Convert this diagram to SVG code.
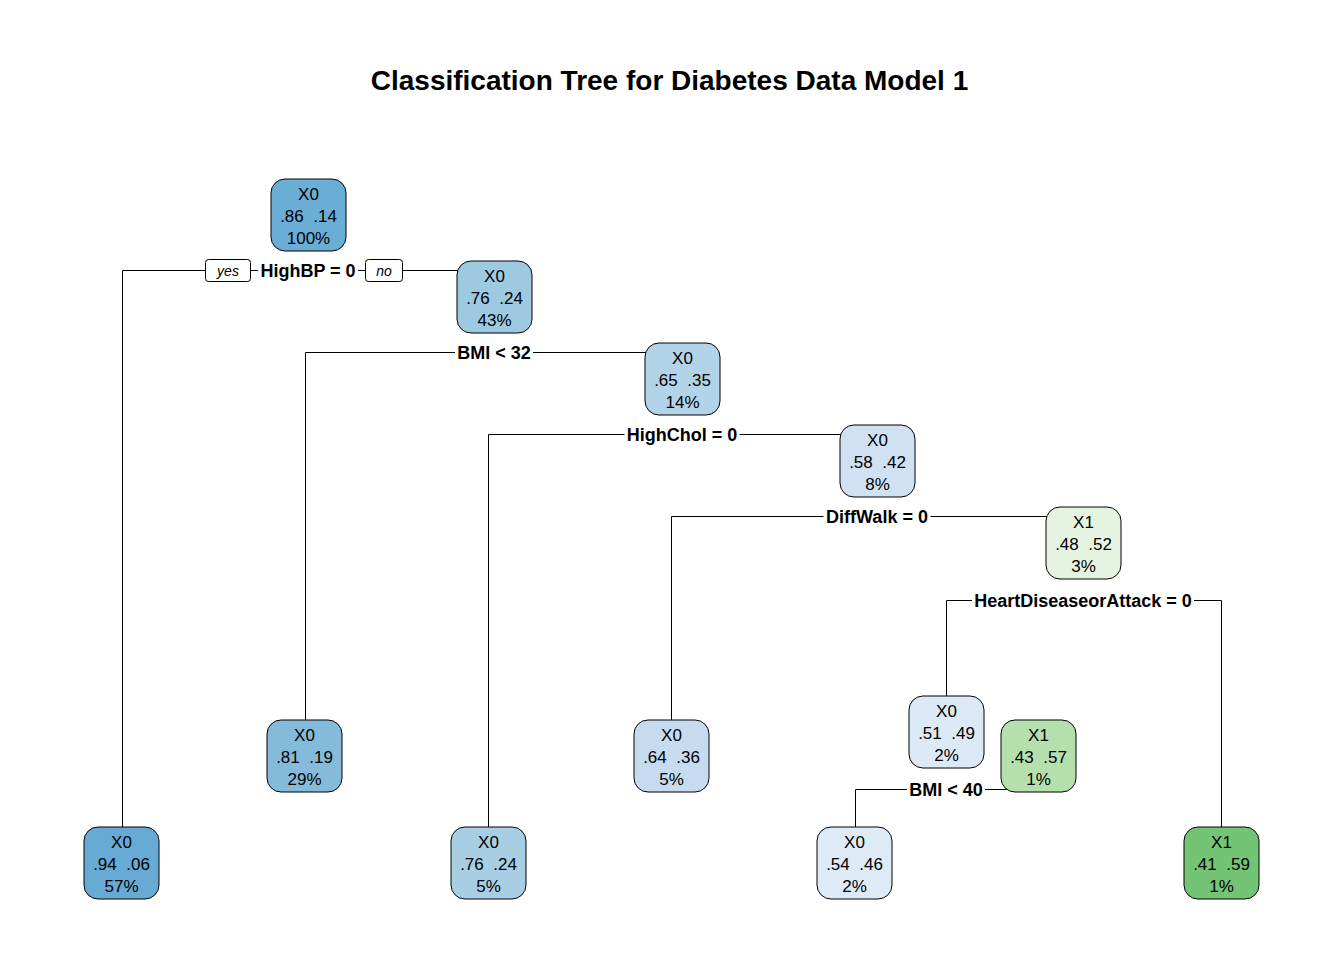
<svg xmlns="http://www.w3.org/2000/svg" width="1344" height="960" viewBox="0 0 1344 960">
<style>
.title{font-family:"Liberation Sans",Arial,sans-serif;font-weight:bold;font-size:28px;text-anchor:middle;fill:#000}
.box{stroke:#000;stroke-width:1}
.nt{font-family:"Liberation Sans",Arial,sans-serif;font-size:17px;text-anchor:middle;fill:#000}
.lbl{font-family:"Liberation Sans",Arial,sans-serif;font-weight:bold;font-size:18px;text-anchor:middle;fill:#000}
.bg{fill:#fff;stroke:none}
.yn{font-family:"Liberation Sans",Arial,sans-serif;font-style:italic;font-size:14px;text-anchor:middle;fill:#000}
.ynbox{fill:#fff;stroke:#000;stroke-width:1}
.conn{fill:none;stroke:#000;stroke-width:1}
</style>
<rect width="1344" height="960" fill="#fff"/>
<text class="title" x="669.5" y="90">Classification Tree for Diabetes Data Model 1</text>

<g id="connectors">
<path class="conn" d="M122.5,827 V270.5 H494"/>
<path class="conn" d="M305.5,720 V352.5 H682"/>
<path class="conn" d="M488.5,827 V434.5 H877"/>
<path class="conn" d="M671.5,720 V516.5 H1083"/>
<path class="conn" d="M946.5,696 V600.5 H1221.5 V827"/>
<path class="conn" d="M855.5,827 V789.5 H1038"/>
</g>

<g id="split-labels">
<rect class="ynbox" x="205.5" y="259.5" width="45" height="22" rx="3"/>
<text class="yn" x="228" y="276">yes</text>
<rect class="ynbox" x="365.5" y="259.5" width="37" height="22" rx="3"/>
<text class="yn" x="384" y="276">no</text>
<rect class="bg" x="258" y="262" width="100" height="17"/>
<text class="lbl" x="308" y="276.5">HighBP = 0</text>
<rect class="bg" x="455" y="344" width="78" height="17"/>
<text class="lbl" x="494" y="358.5">BMI &lt; 32</text>
<rect class="bg" x="624.5" y="426" width="115" height="17"/>
<text class="lbl" x="682" y="440.5">HighChol = 0</text>
<rect class="bg" x="823.5" y="508" width="107" height="17"/>
<text class="lbl" x="877" y="522.5">DiffWalk = 0</text>
<rect class="bg" x="972" y="592" width="222" height="17"/>
<text class="lbl" x="1083" y="606.5">HeartDiseaseorAttack = 0</text>
<rect class="bg" x="907" y="781" width="78" height="17"/>
<text class="lbl" x="946" y="795.5">BMI &lt; 40</text>
</g>

<g id="n1"><rect class="box" x="271" y="179" width="75" height="72" rx="14" fill="#6AAED6"/>
<text class="nt" x="308.5" y="200">X0</text><text class="nt" x="308.5" y="222" xml:space="preserve">.86  .14</text><text class="nt" x="308.5" y="244">100%</text></g>

<g id="n2"><rect class="box" x="457" y="261" width="75" height="72" rx="14" fill="#9DC9E1"/>
<text class="nt" x="494.5" y="282">X0</text><text class="nt" x="494.5" y="304" xml:space="preserve">.76  .24</text><text class="nt" x="494.5" y="326">43%</text></g>

<g id="n3"><rect class="box" x="645" y="343" width="75" height="72" rx="14" fill="#B2D3E8"/>
<text class="nt" x="682.5" y="364">X0</text><text class="nt" x="682.5" y="386" xml:space="preserve">.65  .35</text><text class="nt" x="682.5" y="408">14%</text></g>

<g id="n4"><rect class="box" x="840" y="425" width="75" height="72" rx="14" fill="#CFE1F2"/>
<text class="nt" x="877.5" y="446">X0</text><text class="nt" x="877.5" y="468" xml:space="preserve">.58  .42</text><text class="nt" x="877.5" y="490">8%</text></g>

<g id="n5"><rect class="box" x="1046" y="507" width="75" height="72" rx="14" fill="#E5F4E0"/>
<text class="nt" x="1083.5" y="528">X1</text><text class="nt" x="1083.5" y="550" xml:space="preserve">.48  .52</text><text class="nt" x="1083.5" y="572">3%</text></g>

<g id="n6"><rect class="box" x="909" y="696" width="75" height="72" rx="14" fill="#DCE9F6"/>
<text class="nt" x="946.5" y="717">X0</text><text class="nt" x="946.5" y="739" xml:space="preserve">.51  .49</text><text class="nt" x="946.5" y="761">2%</text></g>

<g id="n7"><rect class="box" x="1001" y="720" width="75" height="72" rx="14" fill="#B5E0AE"/>
<text class="nt" x="1038.5" y="741">X1</text><text class="nt" x="1038.5" y="763" xml:space="preserve">.43  .57</text><text class="nt" x="1038.5" y="785">1%</text></g>

<g id="n8"><rect class="box" x="267" y="720" width="75" height="72" rx="14" fill="#84BBDB"/>
<text class="nt" x="304.5" y="741">X0</text><text class="nt" x="304.5" y="763" xml:space="preserve">.81  .19</text><text class="nt" x="304.5" y="785">29%</text></g>

<g id="n9"><rect class="box" x="634" y="720" width="75" height="72" rx="14" fill="#C6DBEF"/>
<text class="nt" x="671.5" y="741">X0</text><text class="nt" x="671.5" y="763" xml:space="preserve">.64  .36</text><text class="nt" x="671.5" y="785">5%</text></g>

<g id="n10"><rect class="box" x="84" y="827" width="75" height="72" rx="14" fill="#67AAD4"/>
<text class="nt" x="121.5" y="848">X0</text><text class="nt" x="121.5" y="870" xml:space="preserve">.94  .06</text><text class="nt" x="121.5" y="892">57%</text></g>

<g id="n11"><rect class="box" x="451" y="827" width="75" height="72" rx="14" fill="#A8CEE4"/>
<text class="nt" x="488.5" y="848">X0</text><text class="nt" x="488.5" y="870" xml:space="preserve">.76  .24</text><text class="nt" x="488.5" y="892">5%</text></g>

<g id="n12"><rect class="box" x="817" y="827" width="75" height="72" rx="14" fill="#DEEBF7"/>
<text class="nt" x="854.5" y="848">X0</text><text class="nt" x="854.5" y="870" xml:space="preserve">.54  .46</text><text class="nt" x="854.5" y="892">2%</text></g>

<g id="n13"><rect class="box" x="1184" y="827" width="75" height="72" rx="14" fill="#74C476"/>
<text class="nt" x="1221.5" y="848">X1</text><text class="nt" x="1221.5" y="870" xml:space="preserve">.41  .59</text><text class="nt" x="1221.5" y="892">1%</text></g>
</svg>
